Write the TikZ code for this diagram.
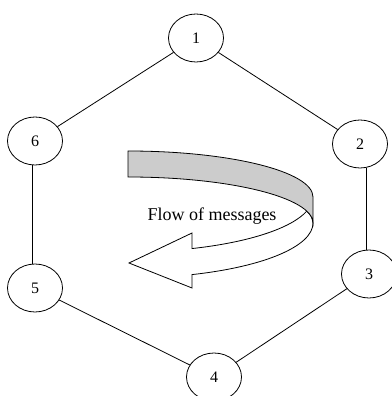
\documentclass[tikz,border=0pt]{standalone}
\usepackage{fontspec}
\setmainfont{Liberation Serif}
\usetikzlibrary{shapes.geometric}
\begin{document}
\begin{tikzpicture}[x=1pt,y=1pt,
  nd/.style={draw, ellipse, line width=0.8pt, minimum width=55pt, minimum height=48pt, inner sep=0pt, font=\fontsize{16}{16}\selectfont},
  edge/.style={line width=0.8pt},
  ribbon/.style={draw, line width=0.8pt, line join=miter}]
\useasboundingbox (0,0) rectangle (391,396);
\node[nd] (n1) at (196,358) {1};
\node[nd] (n2) at (360,252) {2};
\node[nd] (n3) at (369,122) {3};
\node[nd] (n4) at (214,19) {4};
\node[nd] (n5) at (35,108) {5};
\node[nd] (n6) at (35,255) {6};
\draw[edge] (n1) -- (n2);
\draw[edge] (n1) -- (n6);
\draw[edge] ([xshift=6pt]n2.south) -- ([xshift=6pt]n2.south |- n3.north);
\draw[edge] (n3) -- (n4);
\draw[edge] (n4) -- (n5);
\draw[edge] ([xshift=-3pt]n6.south) -- ([xshift=-3pt]n5.north);
% white arrow part
\draw[ribbon, fill=white] (306.7,184.8) arc[start angle=-15, end angle=-69.76, x radius=185, y radius=55]
  -- (192,163) -- (129,133) -- (192,108) -- (192,121.4)
  arc[start angle=-69.76, end angle=0, x radius=185, y radius=55]
  arc[start angle=0, end angle=15, x radius=185, y radius=46] -- cycle;
% gray band
\draw[ribbon, fill=black!20] (128,245) arc[start angle=90, end angle=0, x radius=185, y radius=46]
  -- (313,173) arc[start angle=0, end angle=90, x radius=185, y radius=46] -- cycle;
\node[font=\fontsize{18}{18}\selectfont, anchor=base, inner sep=0pt] (flow) at (212,175) {Flow of messages};
\end{tikzpicture}
\end{document}
